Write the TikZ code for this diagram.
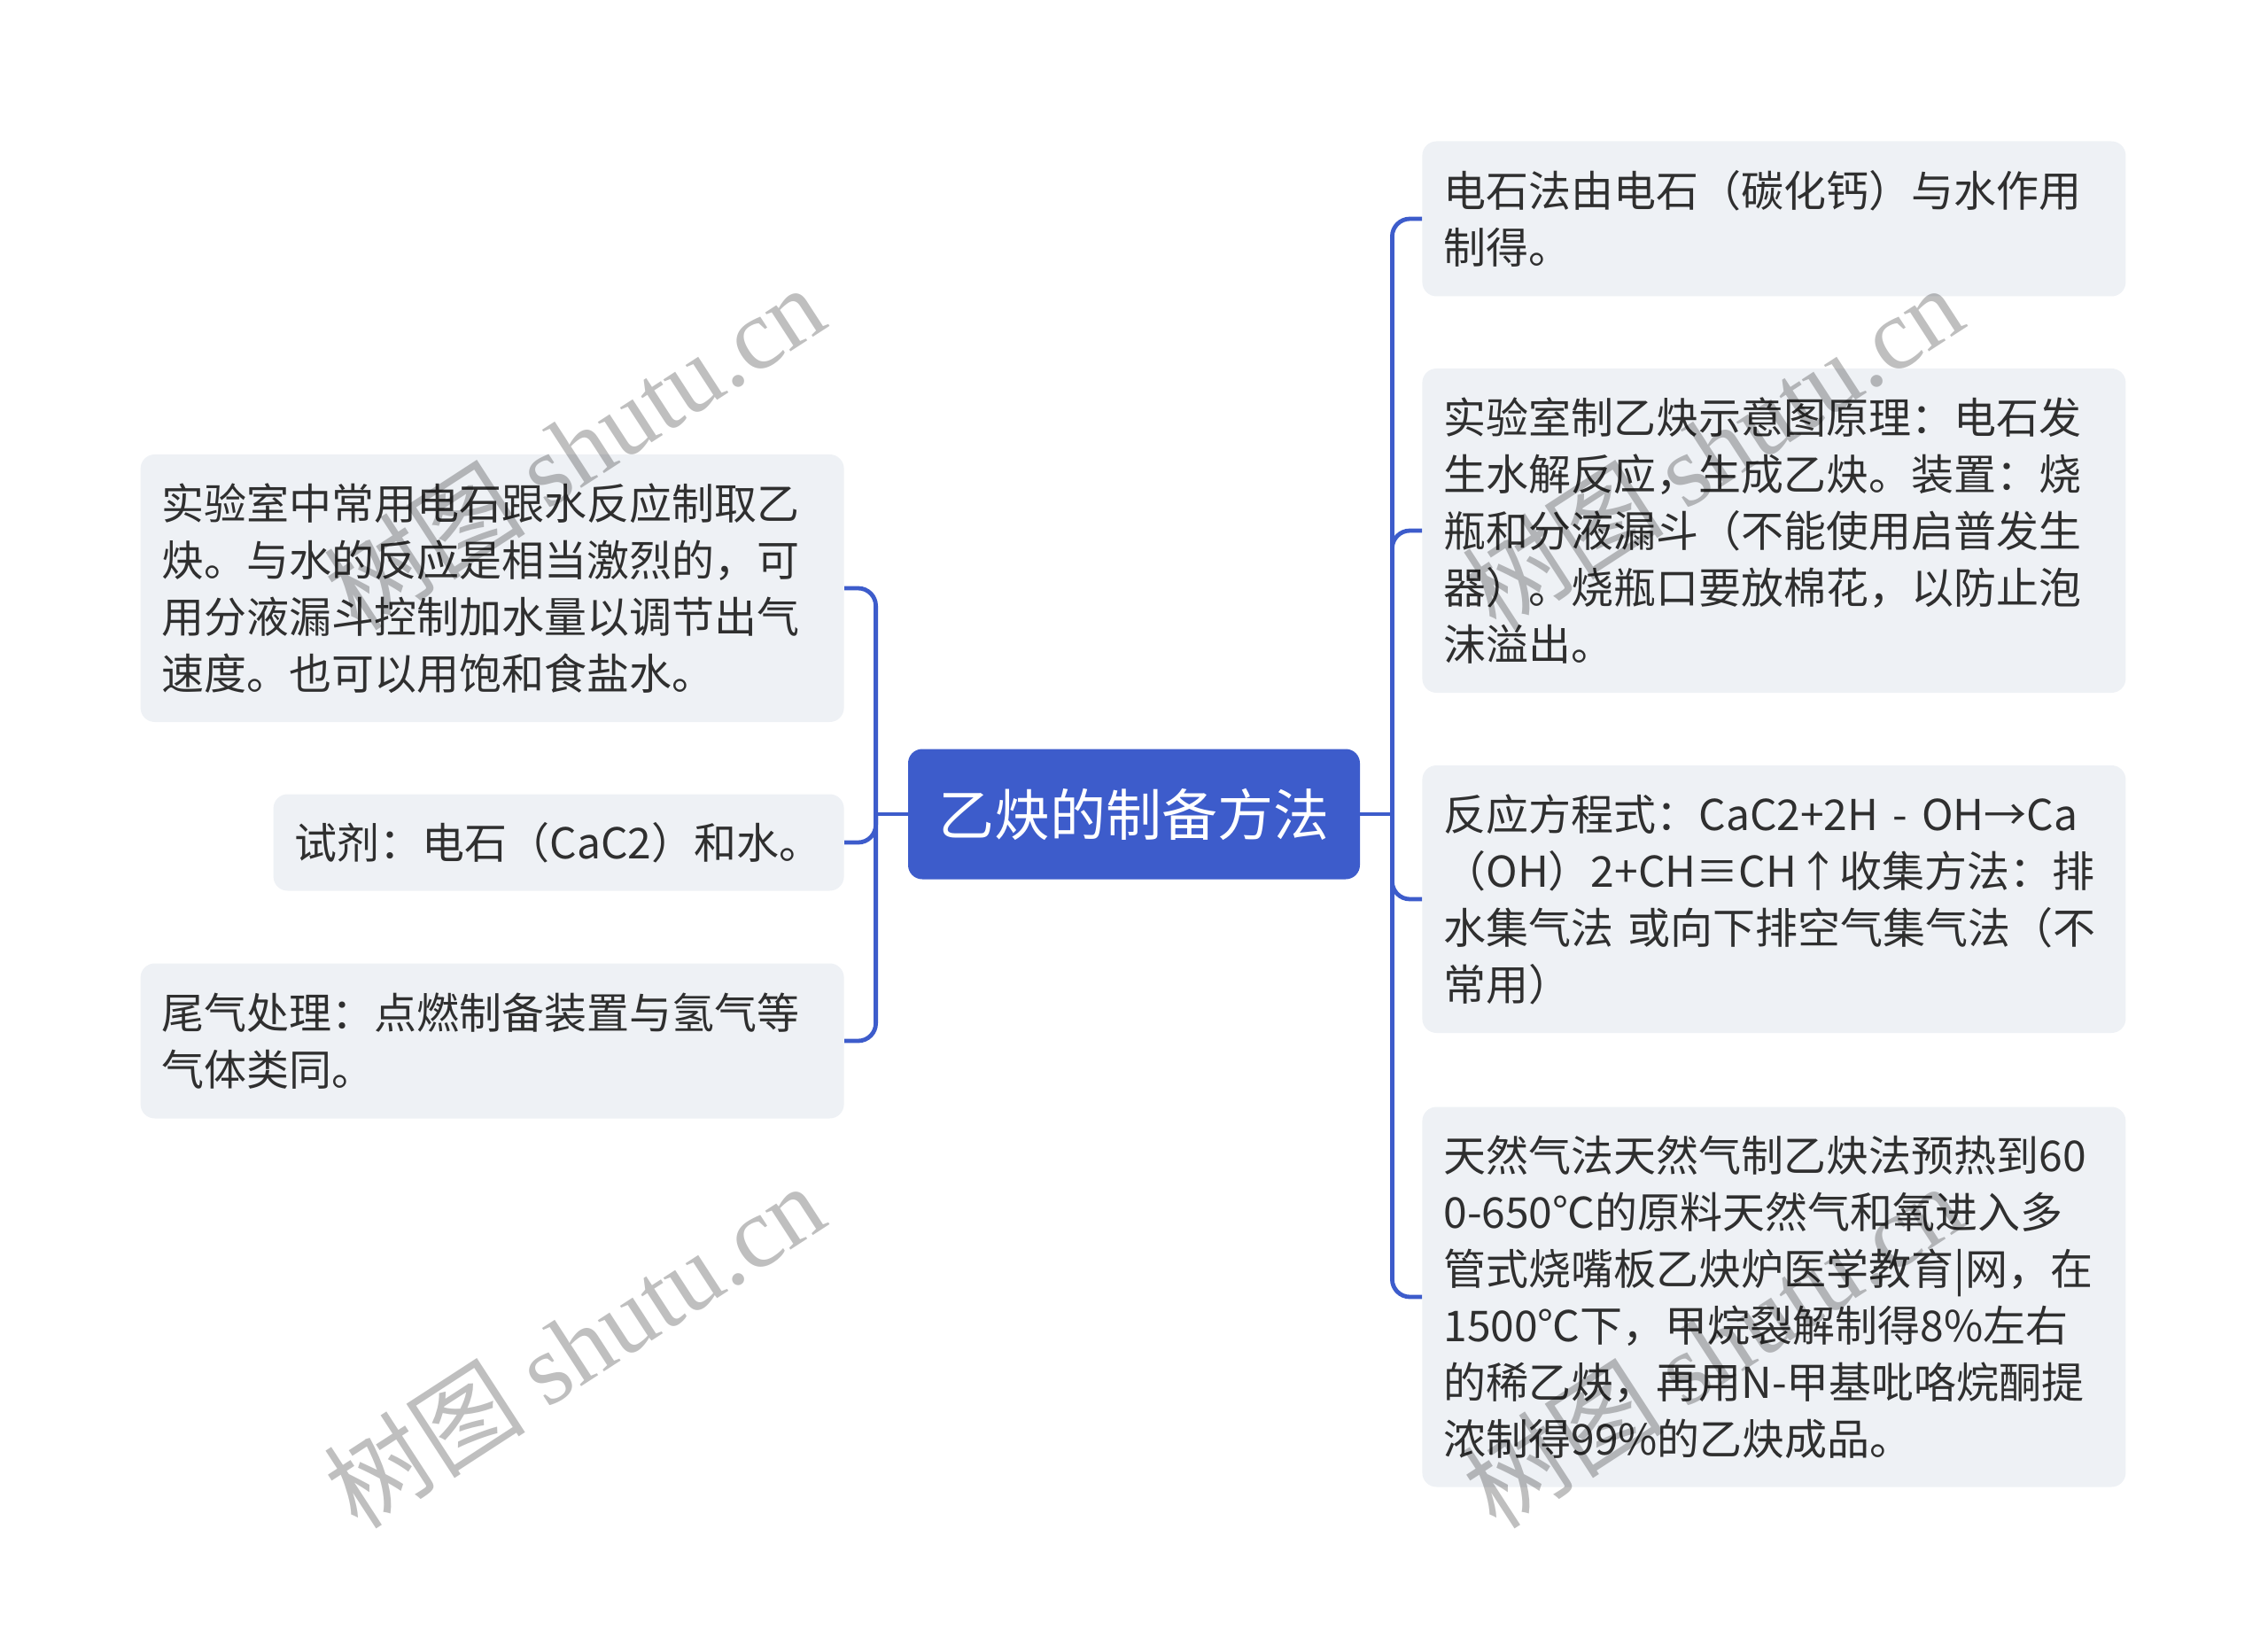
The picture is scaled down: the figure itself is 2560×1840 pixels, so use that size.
\documentclass[tikz,border=0pt]{standalone}
\usepackage{fontspec}
\setmainfont{Noto Sans CJK SC}
\newfontfamily\wmfont{Liberation Serif}

\definecolor{mapblue}{HTML}{3D5CCB}
\definecolor{leafgray}{HTML}{EEF1F5}
\definecolor{inkgray}{HTML}{2F2F2F}

\tikzset{
  root/.style={rectangle, rounded corners=8pt, fill=mapblue, text=white,
    font=\fontsize{31.5pt}{38pt}\selectfont, minimum width=255pt,
    minimum height=73.5pt, inner sep=0pt},
  leaf/.style={rectangle, rounded corners=8pt, fill=leafgray, text=inkgray,
    font=\fontsize{24pt}{32pt}\selectfont, align=left, inner xsep=12pt,
    inner ysep=0pt, text width=373pt},
  link/.style={draw=mapblue, line width=2.4pt, rounded corners=10pt},
  wmark/.style={rotate=33, text=black!25, blend mode=multiply,
    font=\fontsize{57pt}{57pt}\selectfont}
}

\begin{document}
\begin{tikzpicture}[x=0.5pt, y=-0.5pt]
  \useasboundingbox (0,0) rectangle (2560,1840);

  % root
  \node [root] (ctr) at (1280,919) {乙炔的制备方法};

  % left side
  \node [leaf, anchor=east, minimum height=151pt] (L1) at (953,664)
    {实验室中常用电石跟水反应制取乙\\炔。与水的反应是相当激烈的，可\\用分液漏斗控制加水量以调节出气\\速度。也可以用饱和食盐水。};
  \node [leaf, anchor=east, minimum height=54.5pt, text width=298pt] (L2) at (953,951)
    {试剂：电石（CaC2）和水。};
  \node [leaf, anchor=east, minimum height=87.5pt] (L3) at (953,1175)
    {尾气处理：点燃制备装置与氢气等\\气体类同。};

  % right side
  \node [leaf, anchor=west, minimum height=87.5pt] (R1) at (1605,247)
    {电石法由电石（碳化钙）与水作用\\制得。};
  \node [leaf, anchor=west, minimum height=183pt] (R2) at (1605,599)
    {实验室制乙炔示意图原理：电石发\\生水解反应，生成乙炔。装置：烧\\瓶和分液漏斗（不能使用启普发生\\器）。烧瓶口要放棉花，以防止泡\\沫溢出。};
  \node [leaf, anchor=west, minimum height=151pt] (R3) at (1605,1015)
    {反应方程式：CaC2+2H - OH→Ca\\（OH）2+CH≡CH↑收集方法：排\\水集气法 或向下排空气集气法（不\\常用）};
  \node [leaf, anchor=west, minimum height=214.5pt] (R4) at (1605,1464)
    {天然气法天然气制乙炔法预热到60\\0-650℃的原料天然气和氧进入多\\管式烧嘴板乙炔炉医学教育|网，在\\1500℃下，甲烷裂解制得8\%左右\\的稀乙炔，再用N-甲基吡咯烷酮提\\浓制得99\%的乙炔成品。};

  % brackets
  \coordinate (lj) at ([xshift=-18pt]ctr.west);
  \coordinate (rj) at ([xshift=18pt]ctr.east);
  \draw [link] (ctr.west) -- (lj);
  \draw [link] (ctr.east) -- (rj);
  \foreach \n in {L1,L2,L3}
    \draw [link] (lj) |- (\n.east);
  \foreach \n in {R1,R2,R3,R4}
    \draw [link] (rj) |- (\n.west);

  % watermark
  \foreach \x/\y [count=\i] in {648/505, 1933/505, 648/1519, 1933/1519}
    \node [wmark] (wm\i) at (\x,\y) {树图 {\wmfont shutu.cn}};
\end{tikzpicture}
\end{document}
